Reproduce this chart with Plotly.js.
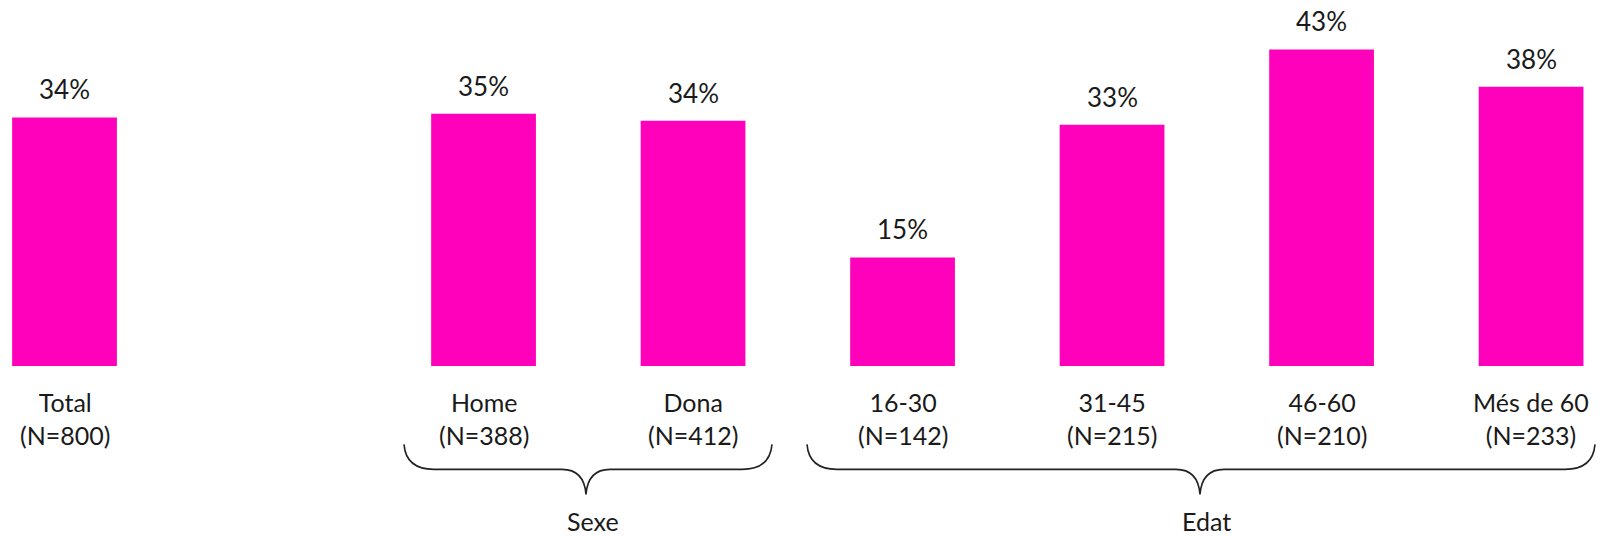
<!DOCTYPE html>
<html>
<head>
<meta charset="utf-8">
<script src="https://cdn.plot.ly/plotly-3.0.1.min.js"></script>
<style>html,body{margin:0;padding:0;background:#fff;}#chart{width:1600px;height:536px;}</style>
</head>
<body>
<div id="chart"></div>
<script>
// ---- data ----
var categories = ['Total', 'Home', 'Dona', '16-30', '31-45', '46-60', 'Més de 60'];
var sampleN = [800, 388, 412, 142, 215, 210, 233];
var values = [34.06, 34.57, 33.61, 14.87, 33.06, 43.37, 38.26];
var valueLabels = ['34%', '35%', '34%', '15%', '33%', '43%', '38%']; // printed labels
var slots = [0, 2, 3, 4, 5, 6, 7];
var groupNames = ['Sexe', 'Edat'];

// ---- layout constants ----
var W = 1600, H = 536;
var baseY = 366.5;           // pixel y of the baseline
var FONT = 'Lato, "Noto Sans", sans-serif';
var TXT = '#1a1a1a';
var xRange = [-0.308, 7.329];
var yMax = 50.14;

function px2paperX(px) { return px / W; }
function py2paperY(py) { return (baseY - py) / baseY; }

var trace = {
  type: 'bar',
  x: slots,
  y: values,
  width: 0.5,
  marker: { color: '#ff00bb', line: { width: 0 } },
  hoverinfo: 'skip'
};

var annotations = [];
for (var i = 0; i < categories.length; i++) {
  annotations.push({
    x: slots[i], y: values[i], xref: 'x', yref: 'y',
    text: valueLabels[i], showarrow: false,
    xanchor: 'center', yanchor: 'middle', yshift: 28,
    font: { family: FONT, size: 26, color: TXT }
  });
  annotations.push({
    x: slots[i], y: py2paperY(386), xref: 'x', yref: 'paper',
    text: categories[i] + '<br>(N=' + sampleN[i] + ')', showarrow: false,
    xanchor: 'center', yanchor: 'top',
    font: { family: FONT, size: 25, color: TXT }
  });
}

// braces (pixel geometry)
var braces = [
  { x0: 404, x1: 772, xm: 586, label: 593 },
  { x0: 807, x1: 1595, xm: 1200, label: 1206 }
];
var shapes = [];
function P(x, y) { return px2paperX(x).toFixed(5) + ',' + py2paperY(y).toFixed(5); }
braces.forEach(function (b, k) {
  var yTop = 445, yLine = 470, yTip = 495;
  var path = 'M ' + P(b.x0, yTop) +
    ' Q ' + P(b.x0 + 2, yLine) + ' ' + P(b.x0 + 30, yLine) +
    ' L ' + P(b.xm - 24, yLine) +
    ' Q ' + P(b.xm - 2, yLine) + ' ' + P(b.xm, yTip) +
    ' Q ' + P(b.xm + 2, yLine) + ' ' + P(b.xm + 24, yLine) +
    ' L ' + P(b.x1 - 30, yLine) +
    ' Q ' + P(b.x1 - 2, yLine) + ' ' + P(b.x1, yTop);
  shapes.push({ type: 'path', xref: 'paper', yref: 'paper', path: path,
    line: { color: '#222222', width: 1.6 } });
  annotations.push({
    x: px2paperX(b.label), y: py2paperY(522), xref: 'paper', yref: 'paper',
    text: groupNames[k], showarrow: false, xanchor: 'center', yanchor: 'middle',
    font: { family: FONT, size: 25, color: TXT }
  });
});

var layout = {
  width: W, height: H,
  margin: { l: 0, r: 0, t: 0, b: H - baseY, pad: 0 },
  paper_bgcolor: '#ffffff', plot_bgcolor: '#ffffff',
  showlegend: false,
  xaxis: { range: xRange, showgrid: false, zeroline: false, showticklabels: false, showline: false, ticks: '' },
  yaxis: { range: [0, yMax], showgrid: false, zeroline: false, showticklabels: false, showline: false, ticks: '' },
  annotations: annotations,
  shapes: shapes
};

Plotly.newPlot('chart', [trace], layout, { displayModeBar: false, staticPlot: true });
</script>
</body>
</html>
